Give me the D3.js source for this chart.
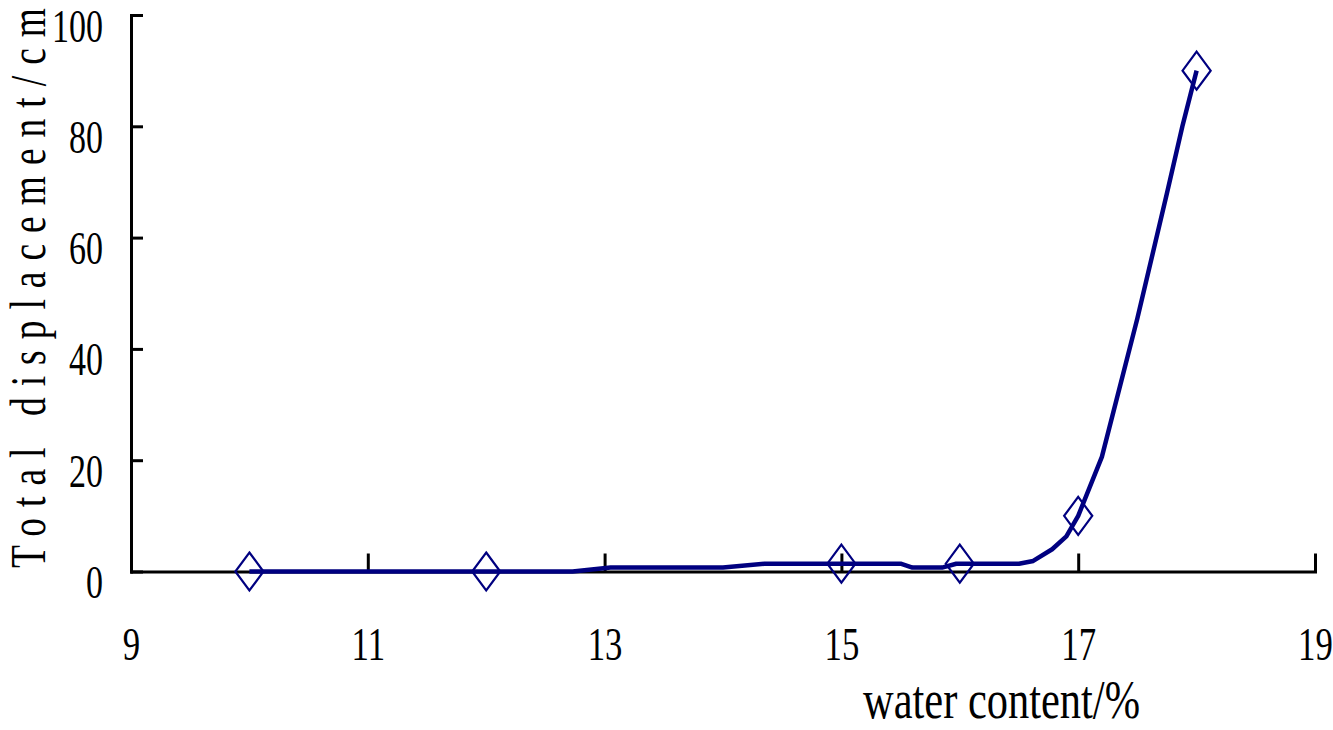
<!DOCTYPE html>
<html>
<head>
<meta charset="utf-8">
<script src="https://cdn.jsdelivr.net/npm/d3@7"></script>
<style>
  html, body { margin: 0; padding: 0; background: #fff; }
  svg { display: block; }
</style>
</head>
<body>
<svg id="chart" width="1333" height="730"></svg>
<script>
// ---- data ----
const xTicks = [9, 11, 13, 15, 17, 19];
const yTicks = [0, 20, 40, 60, 80, 100];
const lineX = [10, 12, 12.73, 13.05, 14.0, 14.35, 15, 15.5, 15.6, 15.85, 15.97, 16, 16.5, 16.62, 16.78, 16.9, 17, 17.2, 17.5, 17.75, 17.88, 18];
const lineY = [0, 0, 0, 0.7, 0.7, 1.4, 1.4, 1.4, 0.7, 0.7, 1.4, 1.4, 1.4, 1.9, 4, 6.3, 10, 20.6, 45.5, 68, 80, 90];
const markerX = [10, 12, 15, 16, 17, 18];
const markerY = [0, 0, 1.4, 1.4, 10, 90];
const xTitle = "water content/%";
const yTitle = "Total displacement/cm";

// ---- layout ----
const svg = d3.select("#chart");
const x = d3.scaleLinear().domain([9, 19]).range([131, 1315]);
const y = d3.scaleLinear().domain([0, 100]).range([571.5, 15]);
const FONT = "'Liberation Serif', 'Times New Roman', serif";
const NAVY = "#000080";
const SX = 0.74;

// x axis
const gx = svg.append("g")
  .attr("transform", `translate(0,${y(0)})`)
  .call(d3.axisBottom(x).tickValues(xTicks).tickSizeInner(-18).tickSizeOuter(0).tickFormat(d3.format("d")));
gx.select(".domain").attr("stroke", "#000").attr("stroke-width", 3);
gx.selectAll(".tick line").attr("stroke", "#000").attr("stroke-width", 3);
gx.selectAll(".tick text")
  .attr("y", 88.5).attr("dy", null)
  .attr("fill", "#000")
  .attr("font-family", FONT).attr("font-size", 47)
  .attr("text-anchor", "middle")
  .attr("transform", `scale(${SX},1)`);

// y axis
const gy = svg.append("g")
  .attr("transform", `translate(${x(9)},0)`)
  .call(d3.axisLeft(y).tickValues(yTicks).tickSizeInner(-12).tickSizeOuter(0).tickFormat(d3.format("d")));
gy.select(".domain").attr("stroke", "#000").attr("stroke-width", 3);
gy.selectAll(".tick line").attr("stroke", "#000").attr("stroke-width", 3);
gy.selectAll(".tick text")
  .attr("x", -28 / SX).attr("y", 26).attr("dy", null)
  .attr("fill", "#000")
  .attr("font-family", FONT).attr("font-size", 46)
  .attr("text-anchor", "end")
  .attr("transform", `scale(${SX},1)`);
svg.selectAll(".domain").attr("stroke-linecap", "square");

// titles
svg.append("text")
  .attr("x", 863).attr("y", 718)
  .attr("font-family", FONT).attr("font-size", 54)
  .attr("textLength", 277).attr("lengthAdjust", "spacingAndGlyphs")
  .attr("fill", "#000")
  .text(xTitle);

svg.append("text")
  .attr("transform", `translate(45,568) rotate(-90) scale(0.75,1)`)
  .attr("x", 0).attr("y", 0)
  .attr("font-family", FONT).attr("font-size", 50)
  .attr("textLength", 560 / 0.75).attr("lengthAdjust", "spacing")
  .attr("fill", "#000")
  .text(yTitle);

// line
const pts = lineX.map((v, i) => [v, lineY[i]]);
svg.append("path")
  .datum(pts)
  .attr("fill", "none")
  .attr("stroke", NAVY)
  .attr("stroke-width", 4.5)
  .attr("stroke-linejoin", "round")
  .attr("d", d3.line().x(d => x(d[0])).y(d => y(d[1])).curve(d3.curveLinear));

// markers (tall diamond)
const tallDiamond = {
  draw(ctx, size) {
    const h = Math.sqrt(size) / 2, w = h * 0.74;
    ctx.moveTo(0, -h); ctx.lineTo(w, 0); ctx.lineTo(0, h); ctx.lineTo(-w, 0); ctx.closePath();
  }
};
svg.append("g").selectAll("path")
  .data(markerX.map((v, i) => [v, markerY[i]]))
  .join("path")
  .attr("transform", d => `translate(${x(d[0])},${y(d[1])})`)
  .attr("d", d3.symbol().type(tallDiamond).size(38 * 38))
  .attr("fill", "none")
  .attr("stroke", NAVY)
  .attr("stroke-width", 2.2);
</script>
</body>
</html>
